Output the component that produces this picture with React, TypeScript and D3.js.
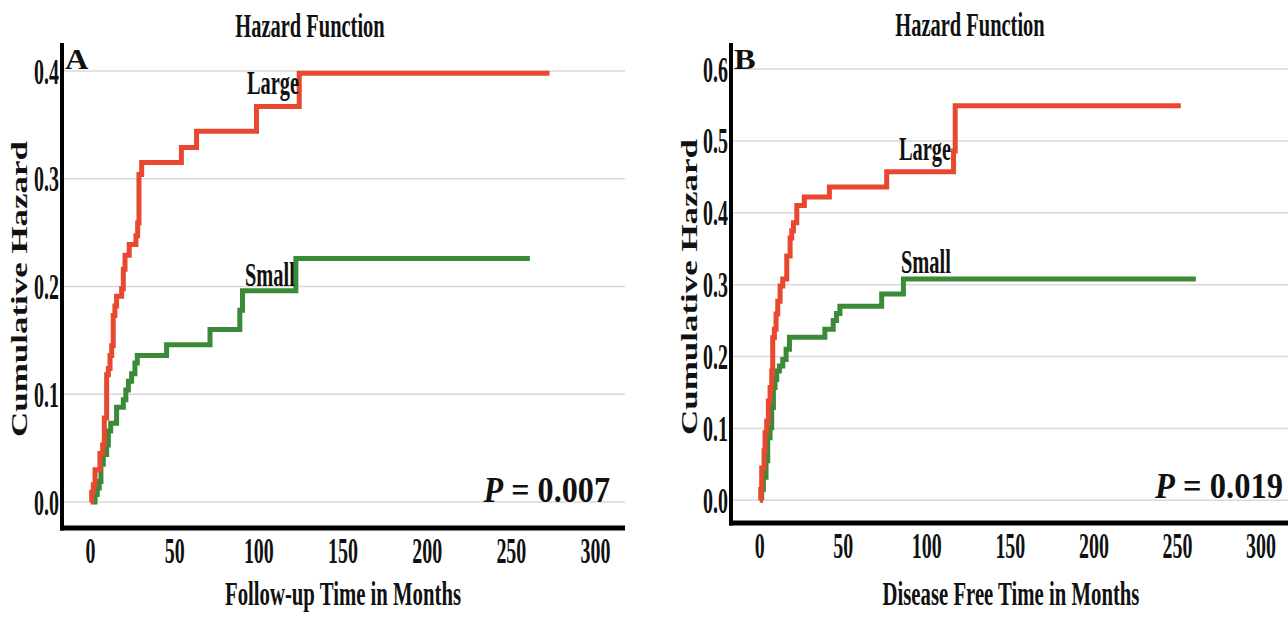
import React from "react";
import * as d3 from "d3";

// ---------- data ----------
const xTicks = [0, 50, 100, 150, 200, 250, 300];
const yTicksA = [0, 0.1, 0.2, 0.3, 0.4];
const yTicksB = [0, 0.1, 0.2, 0.3, 0.4, 0.5, 0.6];

const aLargeT = [0, 0.7, 1.7, 2.7, 5.6, 7.2, 8.2, 9.6, 10.6, 11.6, 12.6, 13.5, 14.5, 15.5, 18.5, 19.5, 20.5, 23, 27, 28, 28.8, 30.4, 54, 63, 98.6, 124, 272.7];
const aLargeV = [0, 0.009, 0.016, 0.03, 0.045, 0.053, 0.078, 0.118, 0.124, 0.136, 0.145, 0.173, 0.182, 0.191, 0.198, 0.216, 0.229, 0.239, 0.247, 0.259, 0.304, 0.315, 0.329, 0.344, 0.367, 0.398, 0.398];

const aSmallT = [1.7, 2.7, 4.0, 5.2, 6.2, 7.6, 9.6, 10.6, 12, 15.5, 19.5, 21, 22.5, 24.4, 26.4, 27.8, 45.2, 71, 88.7, 90.3, 122, 261];
const aSmallV = [0, 0.007, 0.013, 0.019, 0.035, 0.044, 0.053, 0.066, 0.073, 0.088, 0.095, 0.104, 0.112, 0.119, 0.129, 0.136, 0.146, 0.16, 0.178, 0.196, 0.226, 0.226];

const bLargeT = [0, 0.6, 1.2, 2.6, 3.2, 4.2, 5.2, 6.2, 7.2, 7.8, 8.8, 9.8, 10.8, 12.2, 13.8, 16.2, 18.2, 19.2, 20.2, 22.2, 26.7, 41.7, 76, 116, 117, 252];
const bLargeV = [0, 0.015, 0.045, 0.069, 0.094, 0.11, 0.138, 0.157, 0.18, 0.226, 0.238, 0.259, 0.277, 0.298, 0.308, 0.34, 0.365, 0.375, 0.386, 0.41, 0.422, 0.436, 0.457, 0.486, 0.549, 0.549];

const bSmallT = [0.2, 1.2, 2.2, 3.8, 4.8, 6.2, 7.2, 8.2, 9.2, 10.2, 11.8, 13.8, 15.8, 17.8, 39, 44, 46, 48, 73, 86, 261];
const bSmallV = [0.004, 0.015, 0.032, 0.055, 0.087, 0.101, 0.129, 0.157, 0.168, 0.18, 0.187, 0.196, 0.21, 0.227, 0.238, 0.25, 0.26, 0.27, 0.287, 0.308, 0.308];

const title = "Hazard Function";
const yTitle = "Cumulative Hazard";
const xTitleA = "Follow-up Time in Months";
const xTitleB = "Disease Free Time in Months";
const pA = "0.007";
const pB = "0.019";

// ---------- style ----------
const RED = "#e8482f";
const GREEN = "#3a8a3a";
const GRID = "#d9d9d9";
const FONT = "'Liberation Serif', 'Times New Roman', serif";

type TProps = {
  x: number;
  y: number;
  size: number;
  sx?: number;
  anchor?: string;
  children: React.ReactNode;
};
const T = ({ x, y, size, sx = 1, anchor = "start", children }: TProps) => (
  <text
    transform={`translate(${x},${y}) scale(${sx},1)`}
    textAnchor={anchor}
    fontFamily={FONT}
    fontWeight="bold"
    fontSize={size}
    fill="#111"
  >
    {children}
  </text>
);

const fmt = d3.format(".1f");

type PanelProps = {
  x0: number;
  x300: number;
  y0: number;
  yTop: number;
  yMax: number;
  yTicks: number[];
  axisX: number;
  axisY: number;
  axisRight: number;
  gridRight: number;
  large: [number[], number[]];
  small: [number[], number[]];
  letter: string;
  titleX: number;
  titleY: number;
  xTitle: string;
  xTitleX: number;
  xTickY: number;
  yTitleX: number;
  yTitleY: number;
  largePos: [number, number];
  smallPos: [number, number];
  pText: string;
  pRight: number;
  pY: number;
  pScale: number;
};

const Panel = (p: PanelProps) => {
  const x = d3.scaleLinear().domain([0, 300]).range([p.x0, p.x300]);
  const y = d3.scaleLinear().domain([0, p.yMax]).range([p.y0, p.yTop]);
  const line = d3
    .line<[number, number]>()
    .x((d) => x(d[0]))
    .y((d) => y(d[1]))
    .curve(d3.curveStepAfter);
  const toPts = (s: [number[], number[]]) =>
    s[0].map((t, i) => [t, s[1][i]] as [number, number]);

  return (
    <g>
      {p.yTicks.map((t) => (
        <line
          key={"g" + t}
          x1={p.axisX + 2}
          x2={p.gridRight}
          y1={y(t)}
          y2={y(t)}
          stroke={GRID}
          strokeWidth={1.5}
        />
      ))}
      <path d={line(toPts(p.small)) || ""} fill="none" stroke={GREEN} strokeWidth={5} />
      <path d={line(toPts(p.large)) || ""} fill="none" stroke={RED} strokeWidth={5} />
      {/* axes */}
      <line x1={p.axisX} x2={p.axisX} y1={43} y2={p.axisY + 2.5} stroke="#000" strokeWidth={4} />
      <line x1={p.axisX - 2} x2={p.axisRight} y1={p.axisY} y2={p.axisY} stroke="#000" strokeWidth={5} />
      {p.yTicks.map((t) => (
        <T key={"yl" + t} x={p.axisX - 3} y={y(t) + 12.5} size={35} sx={0.57} anchor="end">
          {fmt(t)}
        </T>
      ))}
      {xTicks.map((t) => (
        <T key={"xl" + t} x={x(t)} y={p.xTickY} size={35} sx={0.57} anchor="middle">
          {t}
        </T>
      ))}
      <T x={p.titleX} y={p.titleY} size={33} sx={0.62} anchor="middle">
        {title}
      </T>
      <T x={p.axisX + 3} y={69} size={30} sx={1.08}>
        {p.letter}
      </T>
      <T x={p.xTitleX} y={605} size={34} sx={0.61} anchor="middle">
        {p.xTitle}
      </T>
      <text
        transform={`translate(${p.yTitleX},${p.yTitleY}) rotate(-90) scale(1,0.7)`}
        textAnchor="middle"
        fontFamily={FONT}
        fontWeight="bold"
        fontSize={33}
        textLength={296}
        lengthAdjust="spacingAndGlyphs"
        fill="#111"
      >
        {yTitle}
      </text>
      <T x={p.largePos[0]} y={p.largePos[1]} size={34} sx={0.6}>
        Large
      </T>
      <T x={p.smallPos[0]} y={p.smallPos[1]} size={34} sx={0.6}>
        Small
      </T>
      <T x={p.pRight} y={p.pY} size={35} sx={p.pScale} anchor="end">
        <tspan fontStyle="italic">P</tspan>
        {" = " + p.pText}
      </T>
    </g>
  );
};

export default function App() {
  return (
    <svg
      width={1288}
      height={617}
      style={{ position: "fixed", left: 0, top: 0, background: "#fff" }}
    >
      <rect width={1288} height={617} fill="#fff" />
      <Panel
        x0={90.5}
        x300={595.5}
        y0={502}
        yTop={71}
        yMax={0.4}
        yTicks={yTicksA}
        axisX={62}
        axisY={528}
        axisRight={625}
        gridRight={625}
        large={[aLargeT, aLargeV]}
        small={[aSmallT, aSmallV]}
        letter="A"
        titleX={310}
        titleY={37}
        xTitle={xTitleA}
        xTitleX={343}
        xTickY={563}
        yTitleX={27}
        yTitleY={289}
        largePos={[247, 94]}
        smallPos={[245, 286]}
        pText={pA}
        pRight={610}
        pY={502}
        pScale={0.92}
      />
      <Panel
        x0={759.7}
        x300={1261}
        y0={500.3}
        yTop={69}
        yMax={0.6}
        yTicks={yTicksB}
        axisX={731}
        axisY={523}
        axisRight={1288}
        gridRight={1288}
        large={[bLargeT, bLargeV]}
        small={[bSmallT, bSmallV]}
        letter="B"
        titleX={970}
        titleY={36}
        xTitle={xTitleB}
        xTitleX={1011}
        xTickY={558}
        yTitleX={697}
        yTitleY={287}
        largePos={[899, 160]}
        smallPos={[901, 273]}
        pText={pB}
        pRight={1283}
        pY={498}
        pScale={0.93}
      />
    </svg>
  );
}
